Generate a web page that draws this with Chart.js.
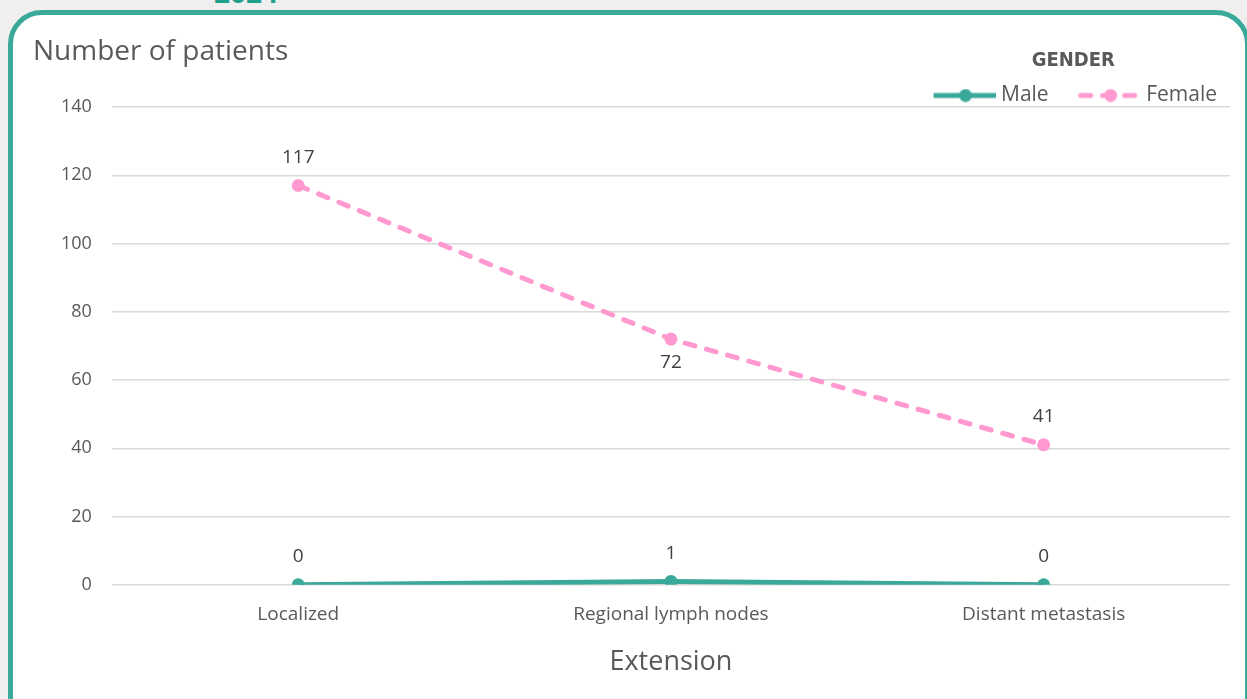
<!DOCTYPE html>
<html>
<head>
<meta charset="utf-8">
<script src="https://cdn.jsdelivr.net/npm/chart.js@4.4.1/dist/chart.umd.min.js"></script>
<style>
  html, body { margin: 0; padding: 0; width: 1247px; height: 699px; overflow: hidden; background: #efefef; }
  .year { position: absolute; left: 214px; top: -27px; font: bold 28px 'Open Sans', sans-serif; color: #1f9e8a; }
  .card { position: absolute; left: 8px; top: 10px; width: 1232px; height: 720px; border: 5px solid #3aa99a; border-radius: 34px; background: #fff; }
  #wrap { position: absolute; left: 0; top: 0; width: 1247px; height: 699px; }
</style>
</head>
<body>
<div class="year">2024</div>
<div class="card"></div>
<div id="wrap"><canvas id="chart"></canvas></div>
<script>
// Data
const categories = ['Localized', 'Regional lymph nodes', 'Distant metastasis'];
const maleValues = [0, 1, 0];
const femaleValues = [117, 72, 41];
const seriesNames = ['Male', 'Female'];

const TEAL = '#3aa99a';
const PINK = '#ff99cf';
const TEXT = '#595959';
const DASH = [10, 12];

// legend symbol: line + dot; the image is a bit wider than the legend box so the
// line runs closer to the label text
function legendSymbol(color, dash) {
    const c = document.createElement('canvas');
    c.width = 84; c.height = 14;
    const g = c.getContext('2d');
    g.strokeStyle = color;
    g.lineWidth = 5;
    g.lineCap = dash.length ? 'round' : 'butt';
    g.setLineDash(dash);
    g.beginPath();
    g.moveTo(dash.length ? 24 : 22, 7);
    g.lineTo(dash.length ? 82 : 84, 7);
    g.stroke();
    g.fillStyle = color;
    g.beginPath();
    g.arc(54, 7, 6.5, 0, Math.PI * 2);
    g.fill();
    return c;
}
const symbols = [legendSymbol(TEAL, []), legendSymbol(PINK, DASH)];

// value labels above/below points
const valueLabels = {
    id: 'valueLabels',
    afterDatasetsDraw(chart) {
        const ctx = chart.ctx;
        ctx.save();
        ctx.font = '19px "Open Sans", sans-serif';
        ctx.fillStyle = '#404040';
        ctx.textAlign = 'center';
        ctx.textBaseline = 'middle';
        chart.data.datasets.forEach((ds, i) => {
            const meta = chart.getDatasetMeta(i);
            meta.data.forEach((pt, j) => {
                const below = ds.labelPos && ds.labelPos[j] === 'below';
                ctx.fillText(ds.data[j], pt.x, below ? pt.y + 24 : pt.y - 28);
            });
        });
        ctx.restore();
    }
};

// "Number of patients" header at top left
const cornerTitle = {
    id: 'cornerTitle',
    afterDraw(chart) {
        const ctx = chart.ctx;
        ctx.save();
        ctx.font = '28px "Open Sans", sans-serif';
        ctx.fillStyle = TEXT;
        ctx.textAlign = 'left';
        ctx.textBaseline = 'middle';
        ctx.fillText('Number of patients', 33, 52);
        ctx.restore();
    }
};

new Chart(document.getElementById('chart').getContext('2d'), {
    type: 'line',
    data: {
        labels: categories,
        datasets: [
            { label: seriesNames[0], data: maleValues, borderColor: TEAL, backgroundColor: TEAL, borderWidth: 5, pointRadius: 6.5, pointBackgroundColor: TEAL, pointBorderWidth: 0, tension: 0 },
            { label: seriesNames[1], data: femaleValues, borderColor: PINK, backgroundColor: PINK, borderWidth: 5, borderDash: DASH, borderCapStyle: 'round', pointRadius: 6.5, pointBackgroundColor: PINK, pointBorderWidth: 0, tension: 0, labelPos: ['above', 'below', 'above'] }
        ]
    },
    options: {
        responsive: true, maintainAspectRatio: false, animation: false,
        layout: { padding: { left: 41, right: 17, top: 51, bottom: 16 } },
        plugins: {
            tooltip: { enabled: false },
            legend: {
                position: 'top', align: 'end', maxHeight: 56,
                title: { display: true, text: 'GENDER', color: TEXT, font: { family: '"Liberation Sans Narrow", "DejaVu Sans Condensed", sans-serif', size: 20, weight: 'bold' }, padding: { top: 0, bottom: -3 } },
                labels: {
                    color: TEXT, font: { family: 'Open Sans', size: 21 }, padding: 13,
                    usePointStyle: true, pointStyleWidth: 74,
                    generateLabels(chart) {
                        const items = Chart.defaults.plugins.legend.labels.generateLabels(chart);
                        items.forEach((it, i) => { it.pointStyle = symbols[i]; });
                        return items;
                    }
                }
            }
        },
        scales: {
            x: {
                offset: true,
                grid: { display: false },
                border: { display: false },
                ticks: { color: TEXT, font: { family: 'Open Sans', size: 19 }, padding: 10 },
                title: { display: true, text: 'Extension', color: TEXT, font: { family: 'Open Sans', size: 27 }, padding: { top: 11 } }
            },
            y: {
                min: 0, max: 140,
                grid: { color: '#d9d9d9', lineWidth: 1.5, drawTicks: false },
                border: { display: false },
                ticks: { stepSize: 20, color: TEXT, font: { family: 'Open Sans', size: 18 }, padding: 20 }
            }
        }
    },
    plugins: [valueLabels, cornerTitle]
});
</script>
</body>
</html>
